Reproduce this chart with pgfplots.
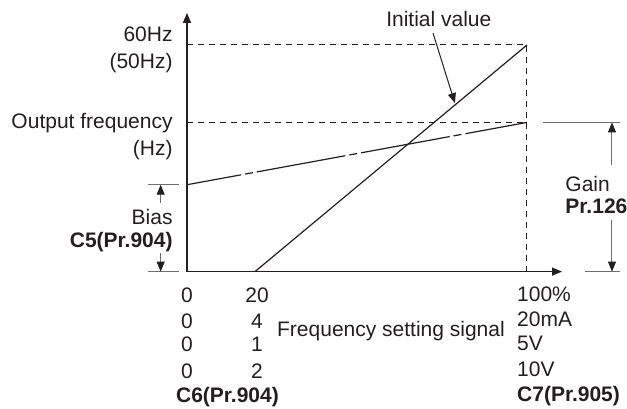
\documentclass[border=0pt]{standalone}
\usepackage{fontspec}
\setmainfont{Liberation Sans}
\usepackage{pgfplots}
\pgfplotsset{compat=1.18}
\usetikzlibrary{arrows.meta}
\definecolor{ink}{HTML}{231F20}
\definecolor{dim}{HTML}{6D6E71}

\begin{document}
\begin{tikzpicture}[
  lbl/.style={inner sep=0pt, font=\fontsize{10.5}{12}\selectfont, text=ink},
  tip/.style={-{Triangle[length=5pt,width=4pt,color=ink]}}]
\useasboundingbox (-93.5pt,-68.2pt) rectangle (220pt,135.8pt);
\begin{axis}[
  x=1.7pt, y=1.8885pt,
  xmin=0, xmax=110.3, ymin=0, ymax=68.5,
  axis x line=bottom, axis y line=left,
  axis line style={ink, line width=0.6pt},
  every outer x axis line/.append style={-{Triangle[length=5pt,width=4pt]}},
  every outer y axis line/.append style={-{Triangle[length=5pt,width=4pt]}},
  xtick=\empty, ytick=\empty,
  clip=false,
]
% guide lines
\addplot[ink, line width=0.5pt, dash pattern=on 3pt off 2.5pt] coordinates {(0,60) (100,60) (100,0)};
\addplot[ink, line width=0.5pt, dash pattern=on 3pt off 2.5pt] coordinates {(0,39.5) (100,39.5)};
% initial value
\addplot[ink, line width=0.6pt] coordinates {(20,0) (100,60)};
% bias / gain setting
\addplot[ink, line width=0.6pt, dash pattern=on 45pt off 2pt on 4pt off 2pt, dash phase=17.5pt] coordinates {(0,23) (100,39.5)};

% bias marker
\draw[dim, line width=0.5pt] (-11.47,23) -- (-2.35,23);
\draw[dim, line width=0.5pt] (-11.47,0) -- (-2.35,0);
\draw[dim, line width=0.5pt, tip] (-7.74,18.2) -- (-7.74,23);
\draw[dim, line width=0.5pt, tip] (-7.74,4.9) -- (-7.74,0);
% gain marker
\draw[dim, line width=0.5pt] (104.7,39.5) -- (127.4,39.5);
\draw[dim, line width=0.5pt] (117.1,0) -- (127.4,0);
\draw[dim, line width=0.5pt, tip] (125,28.2) -- (125,39.5);
\draw[dim, line width=0.5pt, tip] (125,13.7) -- (125,0);
% initial value pointer
\draw[ink, line width=0.5pt, tip] (72.35,63.17) -- (78.8,44.6);

% y side labels
\node[lbl, anchor=base east] at (-4.12,60.87) {60Hz};
\node[lbl, anchor=base east] at (-4.12,53.83) {(50Hz)};
\node[lbl, anchor=base east] at (-4.12,37.94) {Output frequency};
\node[lbl, anchor=base east] at (-4.12,30.87) {(Hz)};
\node[lbl, anchor=base east] at (-4.12,12.60) {Bias};
\node[lbl, anchor=base east] at (-4.12,6.43) {\bfseries C5(Pr.904)};
% x side labels
\node[lbl, anchor=base] at (0,-8.23) {0};
\node[lbl, anchor=base] at (0,-15.01) {0};
\node[lbl, anchor=base] at (0,-21.21) {0};
\node[lbl, anchor=base] at (0,-28.25) {0};
\node[lbl, anchor=base] at (20.6,-8.23) {20};
\node[lbl, anchor=base] at (20.6,-15.01) {4};
\node[lbl, anchor=base] at (20.6,-21.21) {1};
\node[lbl, anchor=base] at (20.6,-28.25) {2};
\node[lbl, anchor=base] at (11.9,-34.71) {\bfseries C6(Pr.904)};
\node[lbl, anchor=base west] at (26.4,-17.24) {Frequency setting signal};
\node[lbl, anchor=base west] at (97,-7.97) {100\%};
\node[lbl, anchor=base west] at (97,-14.59) {20mA};
\node[lbl, anchor=base west] at (97,-20.76) {5V};
\node[lbl, anchor=base west] at (97,-27.83) {10V};
\node[lbl, anchor=base west] at (97,-34.45) {\bfseries C7(Pr.905)};
% other labels
\node[lbl, anchor=base west] at (111.2,21.15) {Gain};
\node[lbl, anchor=base west] at (111.2,15.44) {\bfseries Pr.126};
\node[lbl, anchor=base west] at (58.5,64.84) {Initial value};
\end{axis}
\end{tikzpicture}
\end{document}
